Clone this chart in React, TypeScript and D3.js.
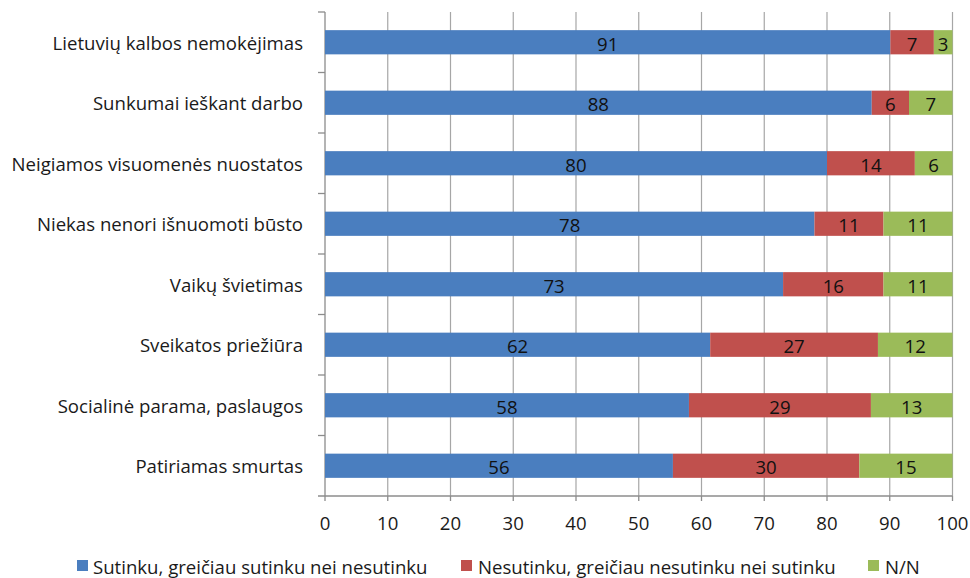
import React from "react";
import * as d3 from "d3";

const categories = [
  "Lietuvių kalbos nemokėjimas",
  "Sunkumai ieškant darbo",
  "Neigiamos visuomenės nuostatos",
  "Niekas nenori išnuomoti būsto",
  "Vaikų švietimas",
  "Sveikatos priežiūra",
  "Socialinė parama, paslaugos",
  "Patiriamas smurtas",
];
const agree = [91, 88, 80, 78, 73, 62, 58, 56];
const disagree = [7, 6, 14, 11, 16, 27, 29, 30];
const dontKnow = [3, 7, 6, 11, 11, 12, 13, 15];
const seriesNames = [
  "Sutinku, greičiau sutinku nei nesutinku",
  "Nesutinku, greičiau nesutinku nei sutinku",
  "N/N",
];
const xTicks = [0, 10, 20, 30, 40, 50, 60, 70, 80, 90, 100];

const colors = ["#4A7EBF", "#C0504D", "#9BBB59"];
const FONT = "'Open Sans', sans-serif";
const FS = 18.6;

export default function App() {
  const W = 970, H = 578;
  const left = 325, right = 952.5, top = 12, bottom = 496;
  const keys = ["a", "d", "n"];
  const rows = categories.map((c, i) => ({ cat: c, a: agree[i], d: disagree[i], n: dontKnow[i] }));
  const stack = d3.stack<any>().keys(keys).offset(d3.stackOffsetExpand)(rows);
  const x = d3.scaleLinear().domain([0, 100]).range([left, right]);
  const y = d3.scaleBand().domain(categories).range([top, bottom]).paddingInner(0.6).paddingOuter(0.3);
  const yb = d3.scaleBand().domain(categories).range([top, bottom]);
  const bh = y.bandwidth();

  const legendItems = [
    { sx: 77, tx: 93 },
    { sx: 461, tx: 478 },
    { sx: 868, tx: 885 },
  ];

  return (
    <svg width={W} height={H} style={{ position: "absolute", left: 0, top: 0, background: "#fff" }} fontFamily={FONT}>
      {/* gridlines */}
      {xTicks.slice(1).map((t) => (
        <line key={"g" + t} x1={x(t)} x2={x(t)} y1={top} y2={bottom} stroke="#a6a6a6" strokeWidth={1.2} />
      ))}
      {/* axes */}
      <line x1={left} x2={left} y1={top} y2={bottom} stroke="#8c8c8c" strokeWidth={1.3} />
      <line x1={left - 7} x2={right} y1={bottom} y2={bottom} stroke="#8c8c8c" strokeWidth={1.3} />
      {categories.map((c) => (
        <line key={"lt" + c} x1={left - 7} x2={left} y1={yb(c)!} y2={yb(c)!} stroke="#8c8c8c" strokeWidth={1.3} />
      ))}
      {xTicks.map((t) => (
        <g key={"t" + t}>
          <line x1={x(t)} x2={x(t)} y1={bottom} y2={bottom + 5} stroke="#8c8c8c" strokeWidth={1.3} />
          <text x={x(t)} y={522} textAnchor="middle" dominantBaseline="central" fontSize={FS} fill="#1a1a1a">
            {t}
          </text>
        </g>
      ))}
      {/* bars */}
      {stack.map((s, si) =>
        s.map((seg: any, i: number) => {
          const x0 = x(seg[0] * 100), x1 = x(seg[1] * 100);
          const yy = y(categories[i])!;
          const val = [agree, disagree, dontKnow][si][i];
          return (
            <g key={si + "-" + i}>
              <rect x={x0} y={yy} width={x1 - x0} height={bh} fill={colors[si]} />
              <text x={(x0 + x1) / 2} y={yy + bh / 2 + 1} textAnchor="middle" dominantBaseline="central" fontSize={FS} fill="#111">
                {val}
              </text>
            </g>
          );
        })
      )}
      {/* category labels */}
      {categories.map((c) => (
        <text key={"c" + c} x={303} y={y(c)! + bh / 2} textAnchor="end" dominantBaseline="central" fontSize={FS} fill="#1a1a1a">
          {c}
        </text>
      ))}
      {/* legend */}
      {seriesNames.map((n, i) => (
        <g key={"l" + i}>
          <rect x={legendItems[i].sx} y={560} width={11} height={11} fill={colors[i]} />
          <text x={legendItems[i].tx} y={566} dominantBaseline="central" fontSize={FS} fill="#1a1a1a">
            {n}
          </text>
        </g>
      ))}
    </svg>
  );
}
